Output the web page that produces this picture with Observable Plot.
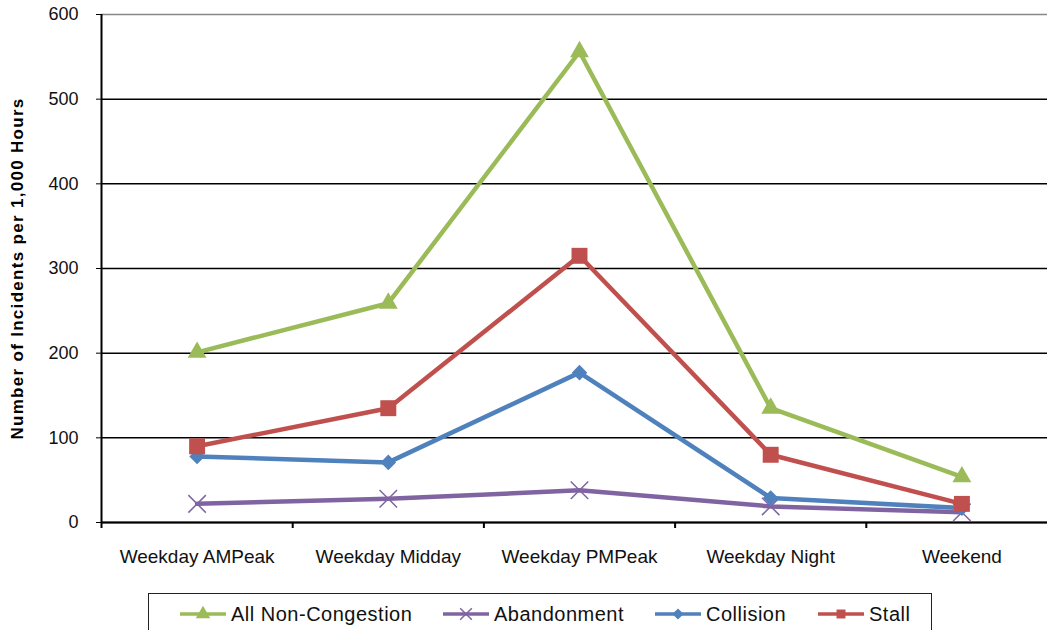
<!DOCTYPE html>
<html>
<head>
<meta charset="utf-8">
<script src="https://cdn.jsdelivr.net/npm/d3@7"></script>
<script src="https://cdn.jsdelivr.net/npm/@observablehq/plot@0.6"></script>
<style>
  html, body { margin: 0; padding: 0; background: #fff; }
  body { width: 1047px; height: 630px; position: relative; overflow: hidden; font-family: "Liberation Sans", Arial, sans-serif; }
  #chart { position: absolute; left: 0; top: 0; }
  #legend { position: absolute; left: 148px; top: 593px; width: 784px; height: 44px; border: 1.5px solid #222; box-sizing: border-box; background: #fff; }
  .item { position: absolute; top: 7px; height: 26px; display: flex; align-items: center; font-size: 20px; letter-spacing: 0.5px; color: #111; white-space: nowrap; }
  .item svg { margin-right: 3px; }
  .ylab { letter-spacing: 1.3px; }
</style>
</head>
<body>
<div id="chart"></div>
<div id="legend"></div>
<script>
const categories = ["Weekday AMPeak", "Weekday Midday", "Weekday PMPeak", "Weekday Night", "Weekend"];
const seriesNames = ["All Non-Congestion", "Abandonment", "Collision", "Stall"];
const allNonCongestion = [201, 259, 556, 135, 54];
const abandonment = [22, 28, 38, 19, 12];
const collision = [78, 71, 177, 29, 17];
const stall = [90, 135, 315, 80, 22];
const yTicks = [0, 100, 200, 300, 400, 500, 600];

const colors = {"All Non-Congestion": "#9BBB59", "Abandonment": "#8064A2", "Collision": "#4F81BD", "Stall": "#C0504D"};
const symbols = {"All Non-Congestion": "triangle", "Abandonment": "times", "Collision": "diamond2", "Stall": "square"};
const radii = {"All Non-Congestion": 7, "Abandonment": 8, "Collision": 7, "Stall": 9};

const seriesValues = [allNonCongestion, abandonment, collision, stall];
const rows = [];
seriesNames.forEach((s, si) => {
  categories.forEach((c, ci) => rows.push({series: s, idx: ci + 0.5, value: seriesValues[si][ci]}));
});

const marks = [
  Plot.ruleY(yTicks.filter(d => d < 600), {stroke: "#000", strokeWidth: 1.5}),
  Plot.ruleY([600], {stroke: "#888", strokeWidth: 1.5}),
  Plot.axisY({ticks: yTicks, tickSize: 5, tickPadding: 18, fontSize: 18, label: null, stroke: "#000"}),
  Plot.ruleX([0], {stroke: "#000", strokeWidth: 2}),
  Plot.ruleY([0], {stroke: "#000", strokeWidth: 2}),
  Plot.axisX({ticks: [0, 1, 2, 3, 4, 5], tickSize: 6, tickFormat: () => "", label: null, strokeWidth: 2, stroke: "#000"}),
  Plot.axisX({ticks: categories.map((c, i) => i + 0.5), tickSize: 0, tickPadding: 27, fontSize: 19, tickFormat: d => categories[Math.round(d - 0.5)], label: null}),
  Plot.text(["Number of Incidents per 1,000 Hours"], {frameAnchor: "left", dx: -84, rotate: -90, textAnchor: "middle", fontSize: 17, fontWeight: "bold", fill: "#000", text: d => d, className: "ylab"})
];
seriesNames.forEach(s => {
  const data = rows.filter(r => r.series === s);
  marks.push(Plot.line(data, {x: "idx", y: "value", stroke: colors[s], strokeWidth: 4.5, strokeLinejoin: "round"}));
  if (symbols[s] === "times") {
    marks.push(Plot.dot(data, {x: "idx", y: "value", symbol: "times", r: radii[s], stroke: colors[s], strokeWidth: 1.5}));
  } else {
    marks.push(Plot.dot(data, {x: "idx", y: "value", symbol: symbols[s], r: radii[s], fill: colors[s], stroke: "none"}));
  }
});

const plot = Plot.plot({
  width: 1047,
  height: 585,
  marginLeft: 101,
  marginRight: -10,
  marginTop: 14,
  marginBottom: 63,
  style: {fontFamily: "'Liberation Sans', Arial, sans-serif", color: "#111", background: "transparent"},
  x: {domain: [0, 5], type: "linear"},
  y: {domain: [0, 600]},
  marks
});
document.getElementById("chart").appendChild(plot);

// Legend
const legendLefts = [31, 294, 506, 669];
const legend = document.getElementById("legend");
seriesNames.forEach((s, i) => {
  const item = document.createElement("div");
  item.className = "item";
  item.style.left = legendLefts[i] + "px";
  const svg = d3.create("svg").attr("width", 48).attr("height", 20);
  svg.append("line").attr("x1", 0).attr("x2", 46).attr("y1", 10).attr("y2", 10).attr("stroke", colors[s]).attr("stroke-width", 3.5);
  const symMap = {triangle: d3.symbolTriangle, times: d3.symbolTimes, diamond2: d3.symbolDiamond2, square: d3.symbolSquare};
  const size = {triangle: 90, times: 90, diamond2: 80, square: 80}[symbols[s]];
  const p = svg.append("path").attr("transform", "translate(23,10)").attr("d", d3.symbol(symMap[symbols[s]], size)());
  if (symbols[s] === "times") p.attr("fill", "none").attr("stroke", colors[s]).attr("stroke-width", 1.5);
  else p.attr("fill", colors[s]);
  item.appendChild(svg.node());
  const t = document.createElement("span");
  t.textContent = s;
  item.appendChild(t);
  legend.appendChild(item);
});
</script>
</body>
</html>
